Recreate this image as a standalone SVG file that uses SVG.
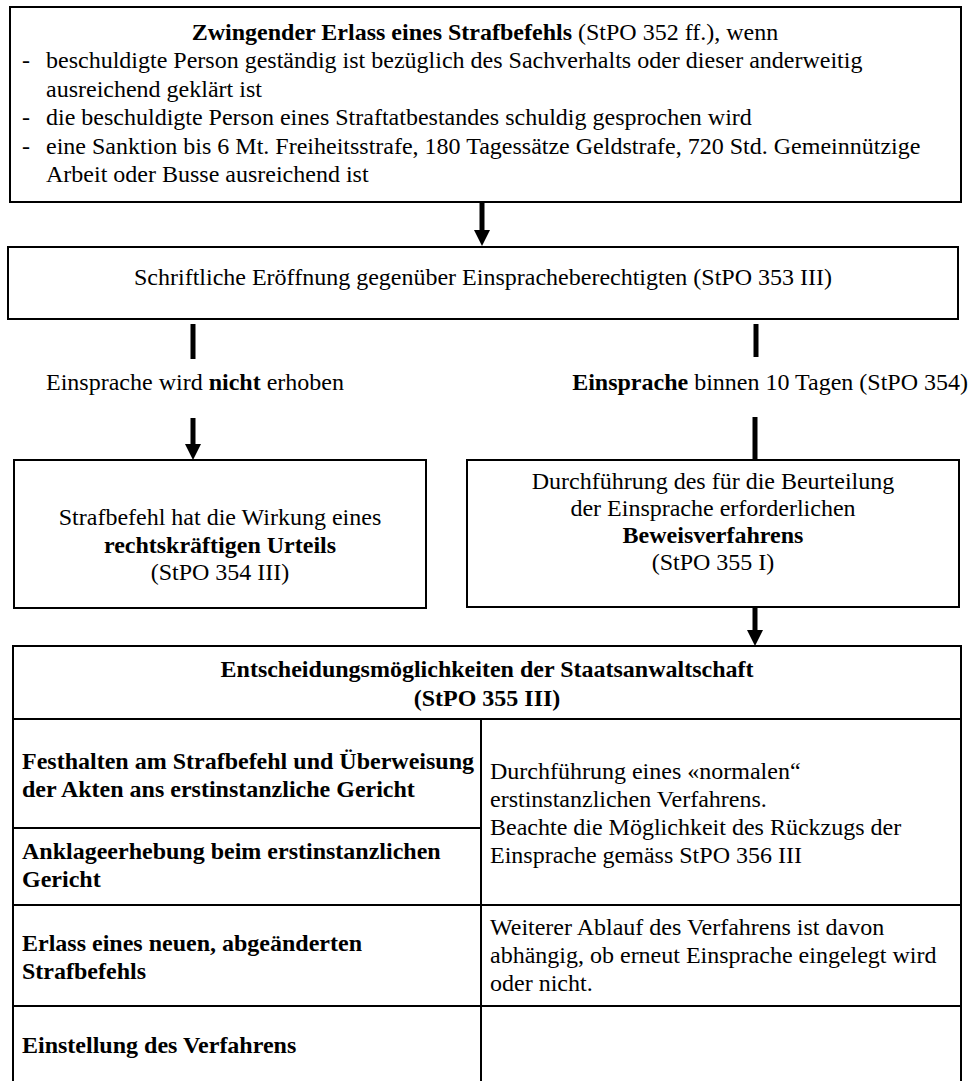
<svg xmlns="http://www.w3.org/2000/svg" width="970" height="1081" viewBox="0 0 970 1081">
<style>
text{font-family:"Liberation Serif","Times New Roman",serif;font-size:24px;fill:#000}
.b{font-weight:bold}
.c{text-anchor:middle}
.box{fill:#fff;stroke:#000;stroke-width:2}
.conn{stroke:#000;stroke-width:5;fill:none}
.grid{stroke:#000;stroke-width:2;fill:none}
</style>
<defs>
<marker id="ah" viewBox="0 0 16 16" refX="0" refY="8" markerWidth="16" markerHeight="16" markerUnits="userSpaceOnUse" orient="auto">
<path d="M0,0 L16,8 L0,16 z" fill="#000"/>
</marker>
</defs>
<rect width="970" height="1081" fill="#fff"/>

<g id="connectors">
<line class="conn" x1="482" y1="202" x2="482" y2="230" marker-end="url(#ah)"/>
<line class="conn" x1="193" y1="324" x2="193" y2="359"/>
<line class="conn" x1="756" y1="324" x2="756" y2="357"/>
<line class="conn" x1="193" y1="418" x2="193" y2="444" marker-end="url(#ah)"/>
<line class="conn" x1="755" y1="417" x2="755" y2="460"/>
<line class="conn" x1="755" y1="607" x2="755" y2="630" marker-end="url(#ah)"/>
</g>

<g id="n-erlass">
<rect class="box" x="10" y="7" width="951" height="195"/>
<text class="c" x="485" y="40"><tspan class="b">Zwingender Erlass eines Strafbefehls</tspan> (StPO 352 ff.), wenn</text>
<text x="22" y="68">-</text><text x="46" y="68">beschuldigte Person geständig ist bezüglich des Sachverhalts oder dieser anderweitig</text>
<text x="46" y="97">ausreichend geklärt ist</text>
<text x="22" y="125">-</text><text x="46" y="125">die beschuldigte Person eines Straftatbestandes schuldig gesprochen wird</text>
<text x="22" y="154">-</text><text x="46" y="154">eine Sanktion bis 6 Mt. Freiheitsstrafe, 180 Tagessätze Geldstrafe, 720 Std. Gemeinnützige</text>
<text x="46" y="182">Arbeit oder Busse ausreichend ist</text>
</g>

<g id="n-eroeffnung">
<rect class="box" x="8" y="247" width="950" height="72"/>
<text class="c" x="483" y="285">Schriftliche Eröffnung gegenüber Einspracheberechtigten (StPO 353 III)</text>
</g>

<g id="l-nicht">
<text class="c" x="195" y="390">Einsprache wird <tspan class="b">nicht</tspan> erhoben</text>
</g>
<g id="l-einsprache">
<text x="968" y="390" text-anchor="end"><tspan class="b">Einsprache</tspan> binnen 10 Tagen (StPO 354)</text>
</g>

<g id="n-rechtskraft">
<rect class="box" x="14" y="460" width="412" height="148"/>
<text class="c" x="220" y="525">Strafbefehl hat die Wirkung eines</text>
<text class="c b" x="220" y="553">rechtskräftigen Urteils</text>
<text class="c" x="220" y="580">(StPO 354 III)</text>
</g>

<g id="n-beweis">
<rect class="box" x="467" y="460" width="492" height="147"/>
<text class="c" x="713" y="489">Durchführung des für die Beurteilung</text>
<text class="c" x="713" y="516">der Einsprache erforderlichen</text>
<text class="c b" x="713" y="543">Beweisverfahrens</text>
<text class="c" x="713" y="570">(StPO 355 I)</text>
</g>

<g id="n-entscheidung">
<path class="grid" d="M13,1081 V646 H961 V1081" stroke-width="3"/>
<path class="grid" d="M13,719 H961 M481,719 V1081 M13,828 H481 M13,905 H961 M13,1006 H961"/>
<text class="c b" x="487" y="677">Entscheidungsmöglichkeiten der Staatsanwaltschaft</text>
<text class="c b" x="487" y="706">(StPO 355 III)</text>
<text class="b" x="22" y="769">Festhalten am Strafbefehl und Überweisung</text>
<text class="b" x="22" y="797">der Akten ans erstinstanzliche Gericht</text>
<text class="b" x="22" y="859">Anklageerhebung beim erstinstanzlichen</text>
<text class="b" x="22" y="887">Gericht</text>
<text x="490" y="779">Durchführung eines «normalen“</text>
<text x="490" y="807">erstinstanzlichen Verfahrens.</text>
<text x="490" y="835">Beachte die Möglichkeit des Rückzugs der</text>
<text x="490" y="863">Einsprache gemäss StPO 356 III</text>
<text class="b" x="22" y="951">Erlass eines neuen, abgeänderten</text>
<text class="b" x="22" y="979">Strafbefehls</text>
<text x="490" y="935">Weiterer Ablauf des Verfahrens ist davon</text>
<text x="490" y="963">abhängig, ob erneut Einsprache eingelegt wird</text>
<text x="490" y="991">oder nicht.</text>
<text class="b" x="22" y="1053">Einstellung des Verfahrens</text>
</g>
</svg>
